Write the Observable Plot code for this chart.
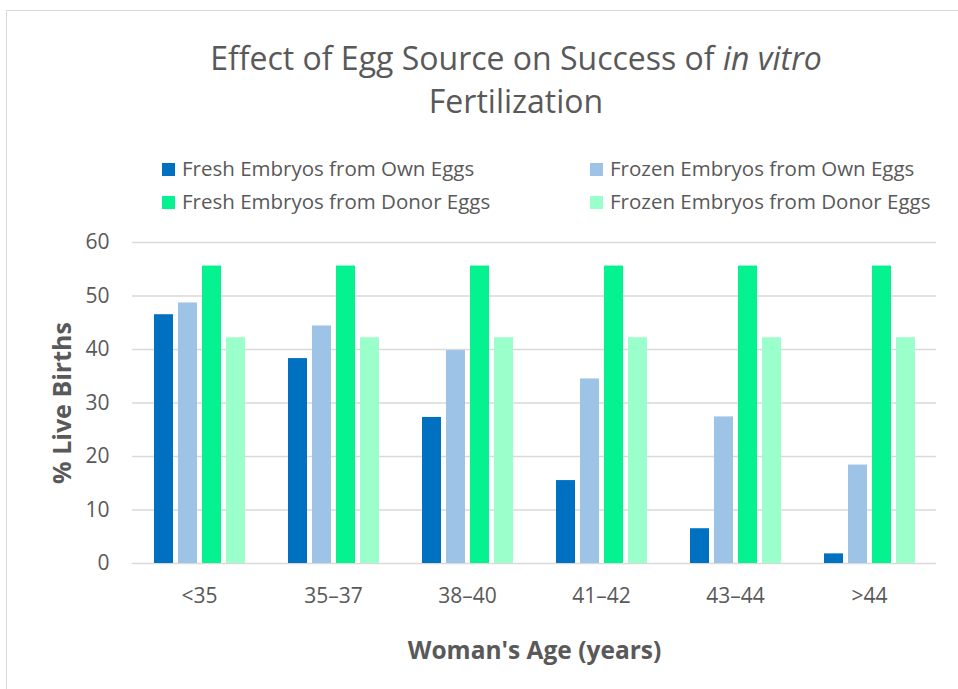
<!DOCTYPE html>
<html>
<head>
<meta charset="utf-8">
<script src="https://cdn.jsdelivr.net/npm/d3@7"></script>
<script src="https://cdn.jsdelivr.net/npm/@observablehq/plot@0.6"></script>
<style>
  html, body { margin: 0; padding: 0; background: #fff; }
  body { width: 958px; height: 689px; overflow: hidden; position: relative; font-family: "Open Sans", sans-serif; color: #595959; }
  #frame { position: absolute; left: 6px; top: 10px; width: 1000px; height: 720px; border: 1px solid #d9d9d9; box-sizing: border-box; }
  #title { position: absolute; left: 116px; width: 800px; top: 36px; text-align: center; font-size: 32px; line-height: 43px; }
  .leg { position: absolute; font-size: 20.5px; line-height: 20px; white-space: nowrap; }
  .sw { position: absolute; width: 13px; height: 13px; }
  #chart { position: absolute; left: 0; top: 220px; }
</style>
</head>
<body>
<div id="frame"></div>
<div id="title">Effect of Egg Source on Success of <i>in vitro</i><br>Fertilization</div>
<div id="legend"></div>
<div id="chart"></div>
<script>
const ages = ["<35", "35–37", "38–40", "41–42", "43–44", ">44"];
const seriesNames = [
  "Fresh Embryos from Own Eggs",
  "Frozen Embryos from Own Eggs",
  "Fresh Embryos from Donor Eggs",
  "Frozen Embryos from Donor Eggs"
];
const freshOwn = [46.5, 38.3, 27.3, 15.5, 6.5, 1.8];
const frozenOwn = [48.7, 44.4, 39.8, 34.5, 27.4, 18.4];
const freshDonor = [55.6, 55.6, 55.6, 55.6, 55.6, 55.6];
const frozenDonor = [42.2, 42.2, 42.2, 42.2, 42.2, 42.2];
const seriesColors = ["#0070C0", "#9DC3E6", "#05F291", "#9BFFCB"];
const yTicks = [0, 10, 20, 30, 40, 50, 60];

const seriesValues = [freshOwn, frozenOwn, freshDonor, frozenDonor];
const data = ages.flatMap((age, i) =>
  seriesNames.map((s, j) => ({age, series: s, value: seriesValues[j][i]}))
);

// legend
const legendPos = [[162, 163], [590, 163], [162, 196], [590, 196]];
const legend = document.getElementById("legend");
seriesNames.forEach((s, j) => {
  const sw = document.createElement("div");
  sw.className = "sw";
  sw.style.left = legendPos[j][0] + "px";
  sw.style.top = legendPos[j][1] + "px";
  sw.style.background = seriesColors[j];
  legend.appendChild(sw);
  const d = document.createElement("div");
  d.className = "leg";
  d.style.left = (legendPos[j][0] + 20) + "px";
  d.style.top = (legendPos[j][1] - 5) + "px";
  d.textContent = s;
  legend.appendChild(d);
});

const chart = Plot.plot({
  width: 958,
  height: 469,
  marginTop: 22,
  marginBottom: 126,
  marginLeft: 130,
  marginRight: 20,
  style: {fontFamily: "'Open Sans', sans-serif", fontSize: "21px", color: "#595959", background: "transparent"},
  fx: {domain: ages, padding: 0, label: null},
  x: {domain: seriesNames, paddingInner: 0.22, paddingOuter: 0.875, axis: null},
  y: {domain: [0, 60]},
  color: {domain: seriesNames, range: seriesColors},
  marks: [
    Plot.gridY(yTicks, {stroke: "#d9d9d9", strokeOpacity: 1, strokeWidth: 1.5}),
    Plot.barY(data, {fx: "age", x: "series", y: "value", fill: "series"}),
    Plot.axisY(yTicks, {tickSize: 0, tickPadding: 23, label: "% Live Births", labelAnchor: "center", labelArrow: "none", labelOffset: 79, fill: "#595959"}),
    Plot.axisFx({anchor: "bottom", tickSize: 0, tickPadding: 25, label: "Woman's Age (years)", labelAnchor: "center", labelArrow: "none", labelOffset: 95, fill: "#595959"})
  ]
});
document.getElementById("chart").appendChild(chart);
const svg = d3.select(chart);
svg.selectAll('[aria-label="y-axis label"] text, [aria-label="y-axis label"]').attr("font-weight", "bold").attr("font-size", 25);
svg.selectAll('[aria-label="fx-axis label"] text, [aria-label="fx-axis label"]').attr("font-weight", "bold").attr("font-size", 24.5);
</script>
</body>
</html>
